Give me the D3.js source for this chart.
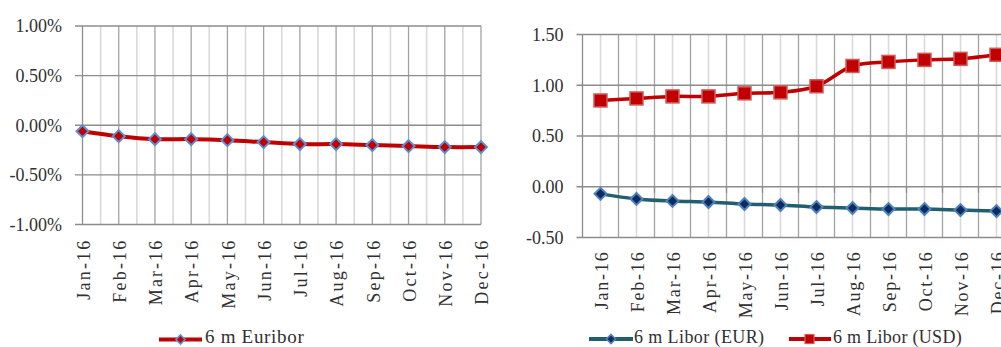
<!DOCTYPE html>
<html>
<head>
<meta charset="utf-8">
<script src="https://cdn.jsdelivr.net/npm/d3@7/dist/d3.min.js"></script>
<style>
  html, body { margin: 0; padding: 0; background: #fff; }
  svg { display: block; }
  text { font-family: "Liberation Serif", "DejaVu Serif", serif; fill: #303030; }
</style>
</head>
<body>
<svg id="chart" width="1001" height="347"></svg>
<script>
// Months of 2016
const months = ["Jan-16","Feb-16","Mar-16","Apr-16","May-16","Jun-16",
                "Jul-16","Aug-16","Sep-16","Oct-16","Nov-16","Dec-16"];

// 6-month Euribor, %
const euribor6m = [-0.06, -0.11, -0.14, -0.14, -0.15, -0.17, -0.19, -0.19, -0.20, -0.21, -0.22, -0.22];

// 6-month Libor, EUR and USD
const liborEur6m = [-0.07, -0.12, -0.14, -0.15, -0.17, -0.18, -0.20, -0.21, -0.22, -0.22, -0.23, -0.24];
const liborUsd6m = [0.85, 0.87, 0.89, 0.89, 0.92, 0.93, 0.99, 1.19, 1.23, 1.25, 1.26, 1.30];

// Axis ticks
const leftTicks = [-1, -0.5, 0, 0.5, 1];
const rightTicks = [-0.5, 0, 0.5, 1, 1.5];

// Legend labels
const leftLegend = ["6 m Euribor"];
const rightLegend = ["6 m Libor (EUR)", "6 m Libor (USD)"];

const locale = d3.formatLocale({decimal: ".", thousands: ",", grouping: [3], currency: ["", ""], minus: "-"});
const fmtPct = v => locale.format(".2f")(v) + "%";
const fmtNum = locale.format(".2f");

const svg = d3.select("#chart");

const gridMajor = "#8c8c8c";
const vMajor = "#a3a3a3";
const vMinor = "#d9d9d9";

function diamond(g, x, y, r, fill, stroke, sw) {
  g.append("path")
    .attr("d", `M${x},${y - r}L${x + r},${y}L${x},${y + r}L${x - r},${y}Z`)
    .attr("fill", fill).attr("stroke", stroke).attr("stroke-width", sw);
}

/* ---------- Left chart: 6 m Euribor ---------- */
{
  const g = svg.append("g");
  const x = d3.scalePoint().domain(months).range([82.5, 481]);
  const y = d3.scaleLinear().domain([-1, 1]).range([224.5, 26]);
  const step = x.step();

  // minor vertical gridlines at half-steps
  g.selectAll(".vminor").data(months.slice(1)).join("line")
    .attr("x1", d => x(d) - step / 2).attr("x2", d => x(d) - step / 2)
    .attr("y1", y(1)).attr("y2", y(-1))
    .attr("stroke", vMinor).attr("stroke-width", 1.6);

  // major vertical gridlines at each month
  g.selectAll(".vmajor").data(months).join("line")
    .attr("x1", d => x(d)).attr("x2", d => x(d))
    .attr("y1", y(1)).attr("y2", y(-1))
    .attr("stroke", (d, i) => i === 0 ? gridMajor : vMajor).attr("stroke-width", 1.3);

  // horizontal gridlines
  g.selectAll(".hgrid").data(leftTicks).join("line")
    .attr("x1", 75).attr("x2", 481)
    .attr("y1", d => y(d)).attr("y2", d => y(d))
    .attr("stroke", gridMajor).attr("stroke-width", 1.3);

  // y labels
  g.selectAll(".ylab").data(leftTicks).join("text")
    .attr("x", 62).attr("y", d => y(d)).attr("dy", "0.35em")
    .attr("text-anchor", "end").attr("font-size", 18)
    .text(fmtPct);

  // x labels
  g.selectAll(".xlab").data(months).join("text")
    .attr("transform", d => `translate(${x(d) + 1},238.5) rotate(-90)`)
    .attr("text-anchor", "end").attr("dy", "0.35em")
    .attr("font-size", 18).attr("letter-spacing", "2.2px")
    .text(d => d);

  const line = d3.line().x((d, i) => x(months[i])).y(d => y(d)).curve(d3.curveCatmullRom);
  g.append("path").datum(euribor6m).attr("d", line)
    .attr("fill", "none").attr("stroke", "#c00000").attr("stroke-width", 4);

  euribor6m.forEach((v, i) => diamond(g, x(months[i]), y(v), 6, "#c00000", "#5b8fd3", 2));

  // legend
  const lg = g.append("g");
  lg.append("line").attr("x1", 159).attr("x2", 202).attr("y1", 339.5).attr("y2", 339.5)
    .attr("stroke", "#c00000").attr("stroke-width", 4);
  diamond(lg, 180.5, 339.5, 4.5, "#c00000", "#5b8fd3", 1.6);
  lg.append("text").attr("x", 205).attr("y", 342.5).attr("font-size", 19)
    .attr("letter-spacing", "0.7px").text(leftLegend[0]);
}

/* ---------- Right chart: 6 m Libor ---------- */
{
  const g = svg.append("g");
  const x = d3.scaleBand().domain(months).range([582.5, 582.5 + 432]);
  const bw = x.bandwidth();
  const cx = d => x(d) + bw / 2;
  const y = d3.scaleLinear().domain([-0.5, 1.5]).range([237.5, 34.5]);

  // light gridlines through category centres
  g.selectAll(".vminor").data(months).join("line")
    .attr("x1", cx).attr("x2", cx)
    .attr("y1", y(1.5)).attr("y2", y(-0.5))
    .attr("stroke", vMinor).attr("stroke-width", 1.6);

  // gridlines at category boundaries
  g.selectAll(".vmajor").data(months.slice(1)).join("line")
    .attr("x1", d => x(d)).attr("x2", d => x(d))
    .attr("y1", y(1.5)).attr("y2", y(-0.5))
    .attr("stroke", vMajor).attr("stroke-width", 1.3);

  // horizontal gridlines with outside tick marks
  g.selectAll(".hgrid").data(rightTicks).join("line")
    .attr("x1", 576.5).attr("x2", 1001)
    .attr("y1", d => y(d)).attr("y2", d => y(d))
    .attr("stroke", gridMajor).attr("stroke-width", 1.3);

  // value axis line
  g.append("line").attr("x1", 582.5).attr("x2", 582.5)
    .attr("y1", y(1.5)).attr("y2", y(-0.5))
    .attr("stroke", gridMajor).attr("stroke-width", 1.3);

  // category tick marks on the zero line
  g.selectAll(".xtick").data(months.slice(1)).join("line")
    .attr("x1", d => x(d)).attr("x2", d => x(d))
    .attr("y1", y(0)).attr("y2", y(0) + 6)
    .attr("stroke", gridMajor).attr("stroke-width", 1.3);

  // y labels
  g.selectAll(".ylab").data(rightTicks).join("text")
    .attr("x", 563.5).attr("y", d => y(d)).attr("dy", "0.35em")
    .attr("text-anchor", "end").attr("font-size", 18)
    .text(fmtNum);

  // x labels
  g.selectAll(".xlab").data(months).join("text")
    .attr("transform", d => `translate(${cx(d) + 1},250.5) rotate(-90)`)
    .attr("text-anchor", "end").attr("dy", "0.35em")
    .attr("font-size", 18).attr("letter-spacing", "1.8px")
    .text(d => d);

  const line = d3.line().x((d, i) => cx(months[i])).y(d => y(d)).curve(d3.curveCatmullRom);

  g.append("path").datum(liborEur6m).attr("d", line)
    .attr("fill", "none").attr("stroke", "#215f6e").attr("stroke-width", 3.5);
  liborEur6m.forEach((v, i) => diamond(g, cx(months[i]), y(v), 6, "#0c2b5e", "#4f81bd", 2));

  g.append("path").datum(liborUsd6m).attr("d", line)
    .attr("fill", "none").attr("stroke", "#c00000").attr("stroke-width", 3.5);
  g.selectAll(".usd").data(liborUsd6m).join("rect")
    .attr("x", (d, i) => cx(months[i]) - 6.5).attr("y", d => y(d) - 6.5)
    .attr("width", 13).attr("height", 13)
    .attr("fill", "#c00000").attr("stroke", "#d25a5a").attr("stroke-width", 1.5);

  // legend
  const lg = g.append("g");
  lg.append("line").attr("x1", 589).attr("x2", 633).attr("y1", 339).attr("y2", 339)
    .attr("stroke", "#215f6e").attr("stroke-width", 4);
  diamond(lg, 611, 339, 4.5, "#0c2b5e", "#4f81bd", 1.6);
  lg.append("text").attr("x", 634).attr("y", 342.5).attr("font-size", 18)
    .attr("letter-spacing", "0.4px").text(rightLegend[0]);

  lg.append("line").attr("x1", 789).attr("x2", 831).attr("y1", 339).attr("y2", 339)
    .attr("stroke", "#c00000").attr("stroke-width", 4);
  lg.append("rect").attr("x", 805).attr("y", 334.5).attr("width", 9).attr("height", 9)
    .attr("fill", "#c00000").attr("stroke", "#d25a5a").attr("stroke-width", 1.2);
  lg.append("text").attr("x", 833).attr("y", 342.5).attr("font-size", 18)
    .attr("letter-spacing", "0.3px").text(rightLegend[1]);
}
</script>
</body>
</html>
